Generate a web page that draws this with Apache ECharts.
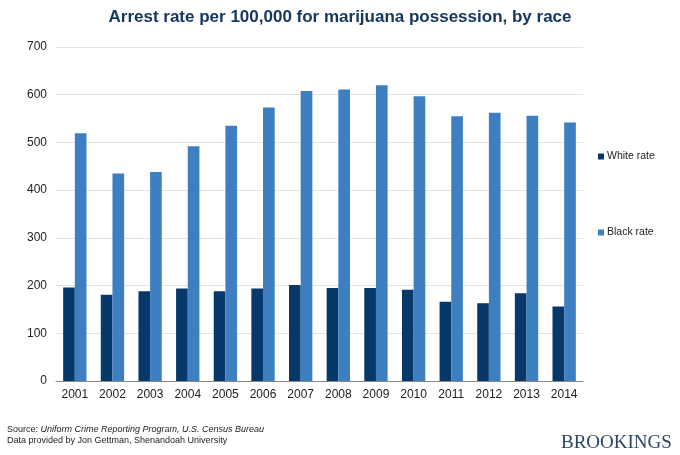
<!DOCTYPE html>
<html><head><meta charset="utf-8">
<script src="https://cdn.jsdelivr.net/npm/echarts@6/dist/echarts.min.js"></script>
<style>html,body{margin:0;padding:0;background:#fff}#c{width:680px;height:455px}</style>
</head><body><div id="c"></div>
<script>
const years = ['2001','2002','2003','2004','2005','2006','2007','2008','2009','2010','2011','2012','2013','2014'];
const whiteRate = [196,181,188,194,188,194,201,195,195,191,166,163,184,156];
const blackRate = [519,435,438,492,535,573,608,611,620,597,555,562,556,542];
const seriesNames = ['White rate','Black rate'];
const titleText = 'Arrest rate per 100,000 for marijuana possession, by race';

const chart = echarts.init(document.getElementById('c'), null, {renderer:'canvas'});
const font = 'Liberation Sans, Arial, sans-serif';
chart.setOption({
  animation:false,
  backgroundColor:'#fff',
  title:{text:titleText,left:'center',top:4,textStyle:{fontFamily:font,fontSize:17,fontWeight:'bold',color:'#163760'}},
  grid:{left:56,right:97,top:47,bottom:74,containLabel:false},
  legend:[
    {data:[seriesNames[0]],orient:'vertical',left:593,top:146,itemWidth:6,itemHeight:6,icon:'rect',itemGap:0,
     textStyle:{fontFamily:font,fontSize:10.5,color:'#222',padding:[0,0,0,-2]}},
    {data:[seriesNames[1]],orient:'vertical',left:593,top:222,itemWidth:6,itemHeight:6,icon:'rect',itemGap:0,
     textStyle:{fontFamily:font,fontSize:10.5,color:'#222',padding:[0,0,0,-2]}}
  ],
  xAxis:{type:'category',data:years,
    axisLine:{lineStyle:{color:'#888',width:1}},axisTick:{show:false},
    axisLabel:{fontFamily:font,fontSize:12,color:'#222',margin:8}},
  yAxis:{type:'value',min:0,max:700,interval:100,
    axisLine:{show:false},axisTick:{show:false},
    splitLine:{lineStyle:{color:'#e3e3e3',width:1}},
    axisLabel:{fontFamily:font,fontSize:12,color:'#222',margin:9}},
  series:[
    {name:seriesNames[0],type:'bar',data:whiteRate,barGap:'0%',barCategoryGap:'38%',itemStyle:{color:'#06386a'}},
    {name:seriesNames[1],type:'bar',data:blackRate,barGap:'0%',barCategoryGap:'38%',itemStyle:{color:'#3e7fc1'}}
  ],
  graphic:[
    {type:'text',left:7,top:425,style:{text:'{n|Source: }{i|Uniform Crime Reporting Program, U.S. Census Bureau}',
      rich:{n:{fontFamily:font,fontSize:9,lineHeight:11,verticalAlign:'bottom',fill:'#222'},
            i:{fontFamily:font,fontSize:9,lineHeight:11,verticalAlign:'bottom',fontStyle:'italic',fill:'#222'}}}},
    {type:'text',left:7,top:436,style:{text:'Data provided by Jon Gettman, Shenandoah University',fontFamily:font,fontSize:9,fill:'#222'}},
    {type:'text',left:561,top:434,style:{text:'BROOKINGS',fontFamily:'Liberation Serif, Times New Roman, serif',fontSize:19,fill:'#2e4464'}}
  ]
});
</script></body></html>
